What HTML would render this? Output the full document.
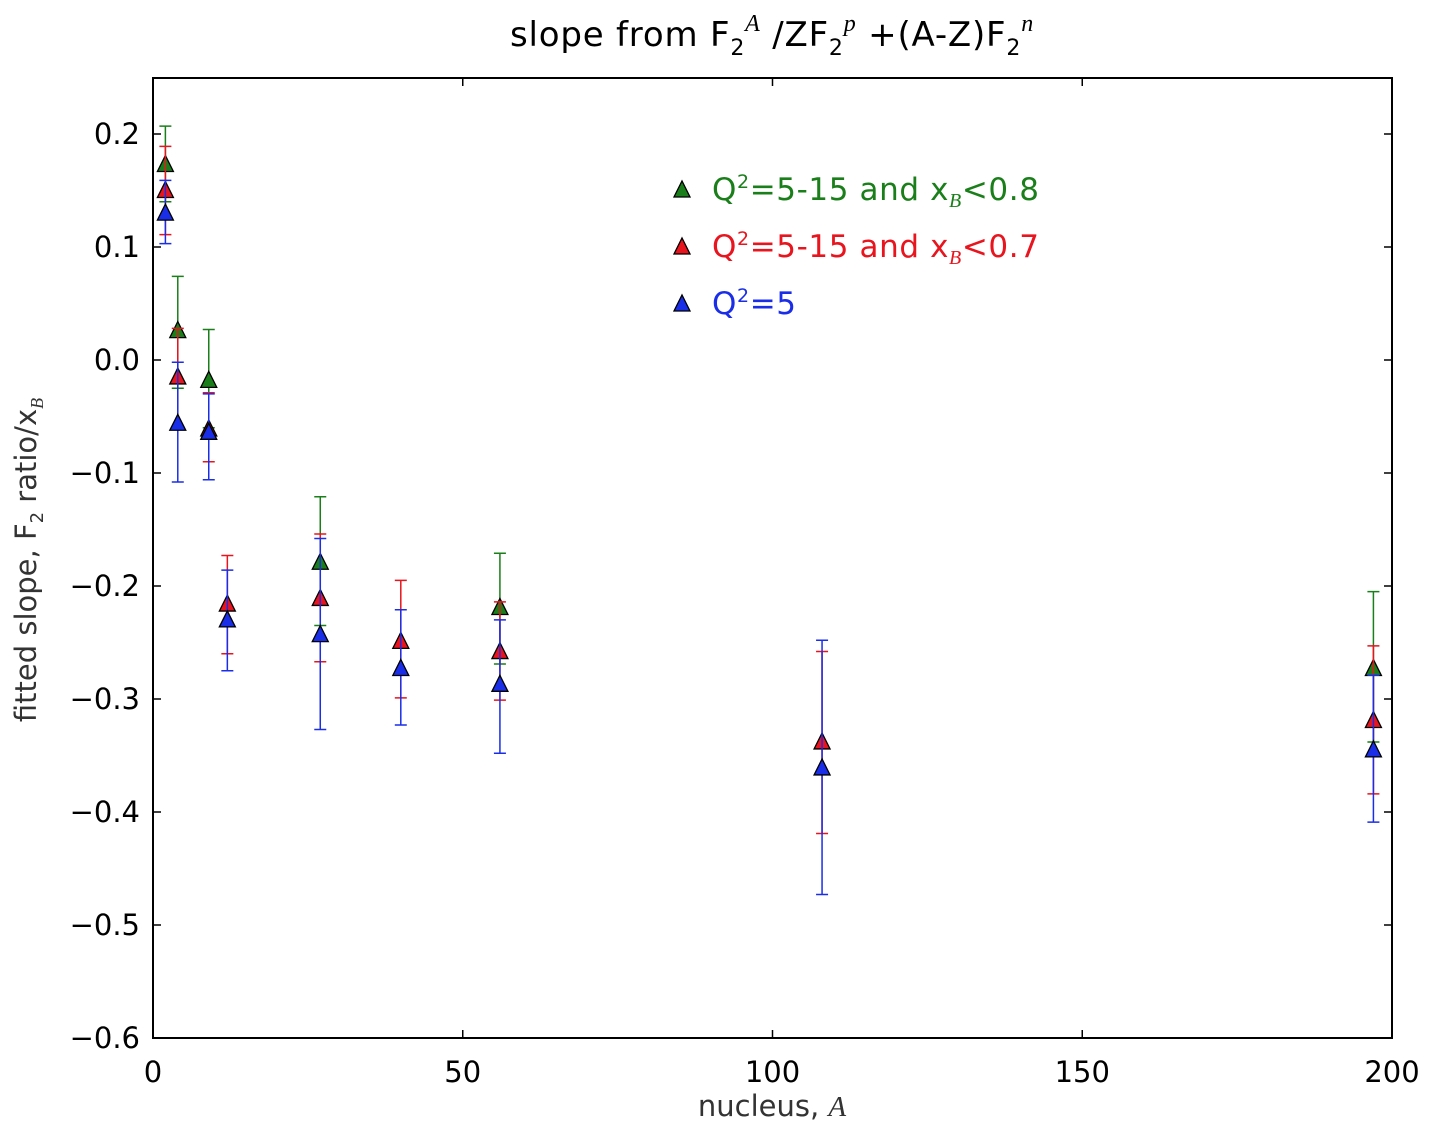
<!DOCTYPE html>
<html><head><meta charset="utf-8"><style>
body{margin:0;background:#fff;}
svg text{font-family:"DejaVu Sans","Liberation Sans",sans-serif;}
</style></head><body>
<svg id="chart" width="1432" height="1134" xmlns="http://www.w3.org/2000/svg">
<text x="772" y="46" font-size="34" letter-spacing="0.8" text-anchor="middle">slope from F<tspan font-size="22" dy="9">2</tspan><tspan font-size="24" dy="-24" font-style="italic" font-family="Liberation Serif">A</tspan><tspan dy="15"> /ZF</tspan><tspan font-size="22" dy="9">2</tspan><tspan font-size="24" dy="-24" font-style="italic" font-family="Liberation Serif">p</tspan><tspan dy="15"> +(A-Z)F</tspan><tspan font-size="22" dy="9">2</tspan><tspan font-size="24" dy="-24" font-style="italic" font-family="Liberation Serif">n</tspan></text>
<g id="axes"></g>
<g id="series"></g>
<rect x="153" y="78" width="1239" height="960" fill="none" stroke="#000" stroke-width="2"/>
<text x="772" y="1116" font-size="29" text-anchor="middle" fill="#333">nucleus, <tspan font-style="italic" font-family="Liberation Serif">A</tspan></text>
<text transform="translate(36,560) rotate(-90)" font-size="29" text-anchor="middle" fill="#333">fitted slope, F<tspan font-size="18" dy="7">2</tspan><tspan dy="-7"> ratio/x</tspan><tspan font-size="18" dy="7" font-style="italic" font-family="Liberation Serif">B</tspan></text>
<g id="legend"></g>
</svg>
<script>
const greenX = [2, 4, 9, 27, 56, 197];
const greenY = [0.173, 0.026, -0.018, -0.179, -0.219, -0.273];
const greenLo = [0.140, -0.025, -0.060, -0.235, -0.269, -0.338];
const greenHi = [0.207, 0.074, 0.027, -0.121, -0.171, -0.205];
const redX = [2, 4, 9, 12, 27, 40, 56, 108, 197];
const redY = [0.150, -0.015, -0.061, -0.216, -0.211, -0.249, -0.258, -0.338, -0.319];
const redLo = [0.111, -0.060, -0.090, -0.260, -0.267, -0.299, -0.301, -0.419, -0.384];
const redHi = [0.189, 0.028, -0.029, -0.173, -0.154, -0.195, -0.214, -0.258, -0.253];
const blueX = [2, 4, 9, 12, 27, 40, 56, 108, 197];
const blueY = [0.130, -0.056, -0.064, -0.230, -0.243, -0.273, -0.287, -0.361, -0.345];
const blueLo = [0.103, -0.108, -0.106, -0.275, -0.327, -0.323, -0.348, -0.473, -0.409];
const blueHi = [0.159, -0.002, -0.030, -0.186, -0.158, -0.221, -0.230, -0.248, -0.279];
const xTicks = [0, 50, 100, 150, 200];
const yTicks = [0.2, 0.1, 0.0, -0.1, -0.2, -0.3, -0.4, -0.5, -0.6];
const yTickLabels = ["0.2", "0.1", "0.0", "\u22120.1", "\u22120.2", "\u22120.3", "\u22120.4", "\u22120.5", "\u22120.6"];

const NS = "http://www.w3.org/2000/svg";
const X = v => 153 + v * (1239 / 200);
const Y = v => 360 - v * 1130;
function mk(tag, attrs, parent){const e=document.createElementNS(NS,tag);for(const k in attrs)e.setAttribute(k,attrs[k]);parent.appendChild(e);return e;}
const axes = document.getElementById('axes');
xTicks.forEach(t=>{
  const l1=mk('line',{x1:X(t),x2:X(t),y1:1038,y2:1030,stroke:'#000','stroke-width':1.5},axes);
  
  
  mk('line',{x1:X(t),x2:X(t),y1:78,y2:86,stroke:'#000','stroke-width':1.5},axes);
  const tx=mk('text',{x:X(t),y:1082,'font-size':29,'text-anchor':'middle','font-family':'Liberation Sans, sans-serif'},axes);
  tx.textContent=t;
  
  
});
yTicks.forEach((t,i)=>{
  const l1=mk('line',{x1:153,x2:161,y1:Y(t),y2:Y(t),stroke:'#000','stroke-width':1.5},axes);
  
  
  mk('line',{x1:1384,x2:1392,y1:Y(t),y2:Y(t),stroke:'#000','stroke-width':1.5},axes);
  const tx=mk('text',{x:140,y:Y(t)+10,'font-size':29,'text-anchor':'end','font-family':'Liberation Sans, sans-serif'},axes);
  tx.textContent=yTickLabels[i];
  
  
});
const series = document.getElementById('series');
function tri(cx,cy,col,parent){
  return mk('polygon',{points:`${cx-8},${cy+7} ${cx+8},${cy+7} ${cx},${cy-9}`,fill:col,stroke:'#000','stroke-width':1.3},parent);
}
function draw(name,col,xa,ya,lo,hi){
  const g=mk('g',{},series);
  
  
  xa.forEach((x,i)=>{
    const cx=X(x);
    const e=mk('path',{d:`M${cx},${Y(lo[i])}V${Y(hi[i])}M${cx-6},${Y(lo[i])}H${cx+6}M${cx-6},${Y(hi[i])}H${cx+6}`,stroke:col,'stroke-width':1.5,fill:'none'},g);
    
    
  });
  xa.forEach((x,i)=>{
    const p=tri(X(x),Y(ya[i]),col,g);
    
    
  });
}
draw('green','#1a7f1a',greenX,greenY,greenLo,greenHi);
draw('red','#e8141e',redX,redY,redLo,redHi);
draw('blue','#1a2ee8',blueX,blueY,blueLo,blueHi);
const legend=document.getElementById('legend');
const entries=[['#1a7f1a','=5-15 and x','<0.8'],['#e8141e','=5-15 and x','<0.7'],['#1a2ee8','=5','']];
entries.forEach((en,i)=>{
  const y=190+i*57;
  const g=mk('g',{},legend);
  
  
  tri(682,y,en[0],g);
  const t=mk('text',{x:712,y:y+10,'font-size':31,'letter-spacing':'0.6',fill:en[0]},g);
  let h=`Q<tspan font-size="19" dy="-12">2</tspan><tspan dy="12">${en[1]}</tspan>`;
  if(en[2]) h+=`<tspan font-size="20" dy="7" font-style="italic" font-family="Liberation Serif">B</tspan><tspan dy="-7">${en[2]}</tspan>`;
  t.innerHTML=h;
});
</script>
</body></html>
